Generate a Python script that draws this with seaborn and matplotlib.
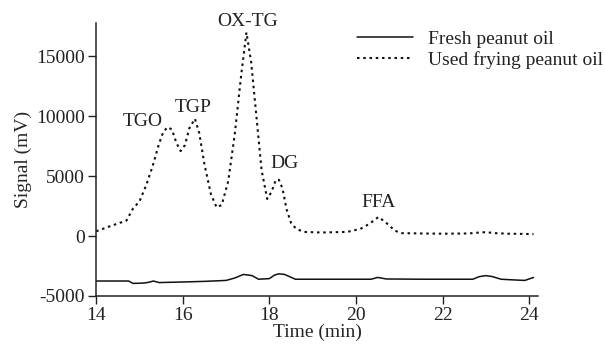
import pandas as pd
import matplotlib
matplotlib.use("Agg")
import matplotlib.pyplot as plt
import seaborn as sns

# chromatogram traces
used_time = [14.0, 14.3, 14.7, 14.85, 15.0, 15.15, 15.3, 15.45, 15.55, 15.65, 15.75, 15.85, 15.95,
             16.05, 16.15, 16.28, 16.38, 16.5, 16.65, 16.78, 16.9, 17.05, 17.2, 17.35, 17.47,
             17.58, 17.7, 17.82, 17.95, 18.05, 18.15, 18.22, 18.3, 18.4, 18.5, 18.62, 18.8,
             19.2, 19.8, 20.1, 20.3, 20.52, 20.7, 20.9, 21.05, 21.5, 22.0, 22.6, 22.85, 23.0,
             23.2, 23.5, 24.1]
used_signal = [400, 800, 1300, 2300, 2900, 4200, 5800, 7700, 8700, 9100, 8900, 7800, 7100,
               7600, 9000, 9800, 8600, 6000, 3500, 2400, 2600, 4600, 8500, 13500, 17000,
               14500, 10000, 5500, 3100, 3700, 4700, 4700, 4000, 2200, 1100, 600, 350,
               300, 350, 600, 1000, 1600, 1100, 450, 250, 220, 200, 220, 300, 330,
               250, 200, 170]

fresh_time = [14.0, 14.3, 14.75, 14.85, 15.1, 15.22, 15.32, 15.45, 16.0, 16.5, 17.0, 17.2, 17.4,
              17.6, 17.75, 18.0, 18.12, 18.22, 18.35, 18.6, 19.5, 20.35, 20.5, 20.7, 21.5,
              22.7, 22.85, 23.0, 23.15, 23.35, 23.6, 23.9, 24.1]
fresh_signal = [-3750, -3750, -3750, -3950, -3920, -3850, -3750, -3880, -3830, -3780, -3700,
                -3500, -3200, -3300, -3600, -3550, -3250, -3150, -3200, -3600, -3600, -3600,
                -3450, -3580, -3600, -3600, -3380, -3300, -3380, -3600, -3650, -3700, -3450]

peak_labels = ["TGO", "TGP", "OX-TG", "DG", "FFA"]
peak_x = [15.07, 16.25, 17.5, 18.35, 20.52]
peak_y = [9600, 10700, 17950, 6100, 2800]

fresh = pd.DataFrame({"time": fresh_time, "signal": fresh_signal})
used = pd.DataFrame({"time": used_time, "signal": used_signal})

sns.set_style("ticks")
plt.rcParams["font.family"] = ["Liberation Serif", "DejaVu Serif"]
plt.rcParams["text.color"] = "#222222"
plt.rcParams["axes.unicode_minus"] = False

fig = plt.figure(figsize=(6.05, 3.47), dpi=100)
ax = fig.add_axes([0.159, 0.147, 0.73, 0.787])

sns.lineplot(data=fresh, x="time", y="signal", color="#111111", linewidth=1.1,
             label="Fresh peanut oil", ax=ax)
sns.lineplot(data=used, x="time", y="signal", color="#111111", linewidth=1.5,
             dashes=False, label="Used frying peanut oil", ax=ax)
ax.lines[1].set_linestyle((0, (1.2, 1.8)))

for lab, px, py in zip(peak_labels, peak_x, peak_y):
    ax.text(px, py, lab, ha="center", va="center", fontsize=14, color="#222222")

ax.set_xlim(14, 24.2)
ax.set_ylim(-5000, 17800)
ax.set_xticks([14, 16, 18, 20, 22, 24])
ax.set_yticks([-5000, 0, 5000, 10000, 15000])
ax.tick_params(labelsize=14, colors="#222222", length=6, width=1, pad=2)
ax.set_xlabel("Time (min)", fontsize=14, labelpad=0)
ax.set_ylabel("Signal (mV)", fontsize=14, labelpad=3)
sns.despine(ax=ax)
for s in ["left", "bottom"]:
    ax.spines[s].set_color("#222222")
    ax.spines[s].set_linewidth(1.1)

leg = ax.legend(loc="upper right", bbox_to_anchor=(1.175, 1.015), frameon=False, fontsize=14,
                handlelength=2.9, handletextpad=0.8, labelspacing=0.15, borderaxespad=0.2)
leg.legend_handles[1].set_linestyle((0, (1.2, 1.8)))

fig.savefig("out.png", dpi=100)
